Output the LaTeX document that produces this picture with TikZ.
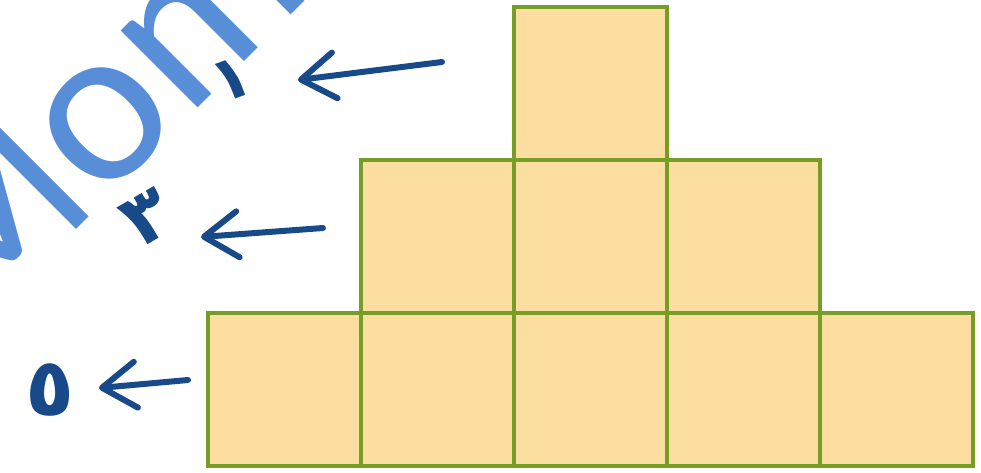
\documentclass[tikz,border=0pt]{standalone}
\usepackage{fontspec}
\usepackage{xcolor}
\usetikzlibrary{arrows.meta,positioning}
\newfontfamily\markfont{Carlito}
\newfontfamily\arabicfont[Script=Arabic]{DejaVu Sans}
\definecolor{cellfill}{RGB}{252,222,160}
\definecolor{cellgreen}{RGB}{118,158,38}
\definecolor{inkblue}{RGB}{24,74,138}
\definecolor{markblue}{RGB}{88,142,216}

\begin{document}
\begin{tikzpicture}[x=1pt,y=-1pt,node distance=0pt,
  cell/.style={draw=cellgreen,line width=4pt,fill=cellfill,minimum size=153pt,inner sep=0pt,outer sep=0pt},
  digit/.style={text=inkblue,font=\arabicfont\bfseries\fontsize{62}{62}\selectfont,inner sep=0pt},
  inkarrow/.style={draw=inkblue,line width=6pt,line cap=round,-{Straight Barb[length=34pt,width=46pt,line width=6pt,round]}}]
\useasboundingbox (0,0) rectangle (981,472);
\clip (0,0) rectangle (981,472);
\node[text=markblue,font=\markfont\fontsize{228}{228}\selectfont,rotate=45,anchor=base west,inner sep=0pt] (mark) at (-36,342) {Mom};
\node[cell] (b1) at (284.5,389) {};
\node[cell,right=of b1] (b2) {};
\node[cell,right=of b2] (b3) {};
\node[cell,right=of b3] (b4) {};
\node[cell,right=of b4] (b5) {};
\node[cell,above=of b2] (m1) {};
\node[cell,right=of m1] (m2) {};
\node[cell,right=of m2] (m3) {};
\node[cell,above=of m2] (t1) {};
\node[digit,rotate=20] (one) at (232,80) {١};
\node[digit,rotate=30,scale=1.2] (three) at (147,218) {٣};
\node[digit,scale=1.3] (five) at (50,390) {٥};
\coordinate (tail1) at (442,62);
\coordinate (tip1) at (298,80);
\coordinate (tail2) at (323,228);
\coordinate (tip2) at (201,237);
\coordinate (tail3) at (188,380);
\coordinate (tip3) at (99,388);
\draw[inkarrow] (tail1) -- (tip1);
\draw[inkarrow] (tail2) -- (tip2);
\draw[inkarrow] (tail3) -- (tip3);
\end{tikzpicture}
\end{document}
